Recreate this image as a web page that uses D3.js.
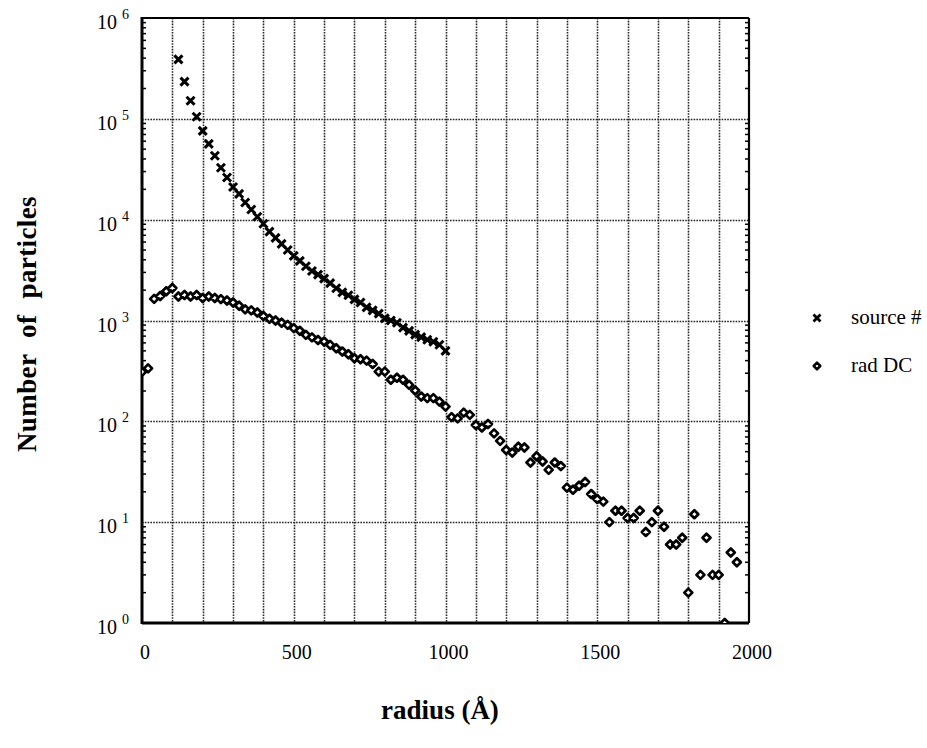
<!DOCTYPE html>
<html>
<head>
<meta charset="utf-8">
<script src="https://cdn.jsdelivr.net/npm/d3@7"></script>
<style>
  html, body { margin: 0; padding: 0; background: #fff; }
  svg { display: block; }
  text { font-family: "Liberation Serif", "Times New Roman", serif; fill: #000; }
</style>
</head>
<body>
<svg id="chart" width="927" height="748"></svg>
<script>
// Radius bins (Å) for the two series
const sourceRadius = d3.range(120, 1001, 20);
const sourceCount = [
  389000, 234000, 151000, 105000, 76000, 56500, 43000, 32700, 26200, 21100,
  18000, 14800, 12600, 10700, 9100, 7600, 6600, 5750, 5000, 4370,
  3900, 3450, 3100, 2850, 2600, 2350, 2090, 1900, 1780, 1620,
  1510, 1350, 1260, 1170, 1050, 1000, 950, 850, 790, 725,
  685, 645, 615, 575, 500
];

const radRadius = d3.range(0, 1961, 20);
const radCount = [
  310, 335, 1640, 1750, 1950, 2100, 1730, 1790, 1730, 1790,
  1670, 1730, 1670, 1630, 1580, 1510, 1400, 1290, 1260, 1200,
  1110, 1040, 1000, 950, 905, 840, 790, 720, 680, 640,
  618, 573, 531, 492, 463, 423, 413, 400, 371, 311,
  311, 258, 271, 258, 230, 202, 176, 170, 170, 157,
  140, 110, 107, 122, 116, 92, 87, 94, 76, 64,
  52, 49, 56, 55, 39, 45, 40, 33, 39, 36,
  22, 21, 23, 25, 19, 17, 16, 10, 13, 13,
  11, 11, 13, 8, 10, 13, 9, 6, 6, 7,
  2, 12, 3, 7, 3, 3, 1, 5, 4
];

const xTicks = [0, 500, 1000, 1500, 2000];
const xGrid = d3.range(100, 2000, 100);
const yExponents = [0, 1, 2, 3, 4, 5, 6];
const legendLabels = ["source #", "rad DC"];
const xTitle = "radius (Å)";
const yTitle = "Number of particles";

const svg = d3.select("#chart");
const plot = { left: 142, right: 749, top: 18, bottom: 623 };

const x = d3.scaleLinear().domain([0, 2000]).range([plot.left, plot.right]);
const y = d3.scaleLog().domain([1, 1e6]).range([plot.bottom, plot.top]);

svg.append("rect").attr("width", 927).attr("height", 748).attr("fill", "#fff");

svg.append("defs").append("clipPath").attr("id", "plotClip")
  .append("rect")
  .attr("x", plot.left).attr("y", plot.top)
  .attr("width", plot.right - plot.left).attr("height", plot.bottom - plot.top);

// Dotted grid
const grid = svg.append("g").attr("stroke", "#000").attr("stroke-width", 1.6)
  .attr("stroke-dasharray", "1.6,1.2").attr("opacity", 0.85);
grid.selectAll("line.v").data(xGrid).join("line")
  .attr("x1", d => Math.round(x(d)) + 0.5).attr("x2", d => Math.round(x(d)) + 0.5)
  .attr("y1", plot.top).attr("y2", plot.bottom);
grid.selectAll("line.h").data(yExponents.slice(1, -1)).join("line")
  .attr("x1", plot.left).attr("x2", plot.right)
  .attr("y1", d => Math.round(y(Math.pow(10, d))) + 0.5)
  .attr("y2", d => Math.round(y(Math.pow(10, d))) + 0.5);

// Minor log ticks on left and right edges, pointing inward
const minor = [];
for (let e = 0; e < 6; e++) for (let m = 2; m <= 9; m++) minor.push(m * Math.pow(10, e));
const ticks = svg.append("g").attr("stroke", "#000").attr("stroke-width", 1.5);
ticks.selectAll("line.l").data(minor).join("line")
  .attr("x1", plot.left).attr("x2", plot.left + 4)
  .attr("y1", d => y(d)).attr("y2", d => y(d));
ticks.selectAll("line.r").data(minor).join("line")
  .attr("x1", plot.right).attr("x2", plot.right - 4)
  .attr("y1", d => y(d)).attr("y2", d => y(d));

// Frame
const frame = svg.append("g").attr("stroke", "#000").attr("fill", "none");
frame.append("line").attr("x1", plot.left).attr("x2", plot.right)
  .attr("y1", plot.top).attr("y2", plot.top).attr("stroke-width", 2.2);
frame.append("line").attr("x1", plot.right).attr("x2", plot.right)
  .attr("y1", plot.top).attr("y2", plot.bottom).attr("stroke-width", 2.2);
frame.append("line").attr("x1", plot.left).attr("x2", plot.left)
  .attr("y1", plot.top - 1).attr("y2", plot.bottom + 1).attr("stroke-width", 3);
frame.append("line").attr("x1", plot.left).attr("x2", plot.right)
  .attr("y1", plot.bottom).attr("y2", plot.bottom).attr("stroke-width", 3);

// Markers
const crossPath = "M-4,-4L4,4M-4,4L4,-4";
const diamondPath = "M0,-4L4,0L0,4L-4,0Z";

const marks = svg.append("g").attr("clip-path", "url(#plotClip)");
marks.selectAll("path.rad").data(radRadius.map((r, i) => [r, radCount[i]]))
  .join("path").attr("class", "rad")
  .attr("d", diamondPath)
  .attr("transform", d => `translate(${x(d[0])},${y(d[1])})`)
  .attr("fill", "#fff").attr("stroke", "#000").attr("stroke-width", 2.7)
  .attr("stroke-linejoin", "round");
marks.selectAll("path.src").data(sourceRadius.map((r, i) => [r, sourceCount[i]]))
  .join("path").attr("class", "src")
  .attr("d", crossPath)
  .attr("transform", d => `translate(${x(d[0])},${y(d[1])})`)
  .attr("fill", "none").attr("stroke", "#000").attr("stroke-width", 3);

// X tick labels
svg.append("g").selectAll("text").data(xTicks).join("text")
  .attr("x", d => x(d) + 3).attr("y", 659)
  .attr("text-anchor", "middle").attr("font-size", 20)
  .text(d => d);

// Y tick labels: 10 with a raised exponent
const yl = svg.append("g");
yl.selectAll("text.base").data(yExponents).join("text")
  .attr("x", 117).attr("y", d => y(Math.pow(10, d)) + 11)
  .attr("text-anchor", "end").attr("font-size", 20)
  .text("10");
yl.selectAll("text.exp").data(yExponents).join("text")
  .attr("x", 122).attr("y", d => y(Math.pow(10, d)) + 1)
  .attr("font-size", 14)
  .text(d => d);

// Axis titles
svg.append("text")
  .attr("x", 440).attr("y", 719)
  .attr("text-anchor", "middle").attr("font-size", 27).attr("font-weight", "bold")
  .text(xTitle);
svg.append("text")
  .attr("transform", "translate(36,324) rotate(-90)")
  .attr("text-anchor", "middle").attr("font-size", 27).attr("font-weight", "bold")
  .attr("word-spacing", 9).attr("letter-spacing", 0.4)
  .text(yTitle);

// Legend
const legend = svg.append("g");
legend.append("path").attr("d", "M-3.5,-3.5L3.5,3.5M-3.5,3.5L3.5,-3.5")
  .attr("transform", "translate(817,318)")
  .attr("fill", "none").attr("stroke", "#000").attr("stroke-width", 2.8);
legend.append("path").attr("d", "M0,-3.3L3.3,0L0,3.3L-3.3,0Z")
  .attr("transform", "translate(817,366)")
  .attr("fill", "#fff").attr("stroke", "#000").attr("stroke-width", 2.5)
  .attr("stroke-linejoin", "round");
legend.selectAll("text").data(legendLabels).join("text")
  .attr("x", 851).attr("y", (d, i) => 324 + i * 48)
  .attr("font-size", 21)
  .text(d => d);
</script>
</body>
</html>
